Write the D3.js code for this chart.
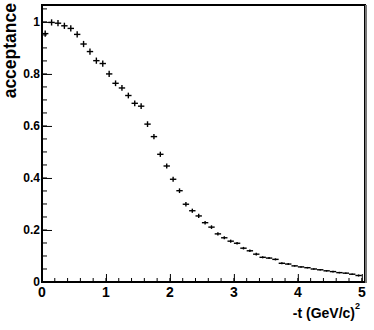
<!DOCTYPE html>
<html lang="en">
    <head>
        <style>
            body { margin: 0; background: #fff; }
            text { font-family: "Liberation Sans", Arial, sans-serif; font-weight: bold; fill: #000; }
        </style>
        <script src="https://d3js.org/d3.v7.min.js"></script>
        <title>acceptance</title>
    </head>
    <body>
        <div id="chart"></div>
        <script>

            // bin centres in -t (GeV/c)^2, bin width 0.1
            var tCentres = [0.05, 0.15, 0.25, 0.35, 0.45, 0.55, 0.65, 0.75, 0.85, 0.95,
                            1.05, 1.15, 1.25, 1.35, 1.45, 1.55, 1.65, 1.75, 1.85, 1.95,
                            2.05, 2.15, 2.25, 2.35, 2.45, 2.55, 2.65, 2.75, 2.85, 2.95,
                            3.05, 3.15, 3.25, 3.35, 3.45, 3.55, 3.65, 3.75, 3.85, 3.95,
                            4.05, 4.15, 4.25, 4.35, 4.45, 4.55, 4.65, 4.75, 4.85, 4.95]
            var acceptance = [0.955, 0.998, 0.995, 0.985, 0.975, 0.952, 0.915, 0.886, 0.851, 0.840,
                              0.800, 0.764, 0.746, 0.717, 0.687, 0.676, 0.607, 0.559, 0.491, 0.446,
                              0.395, 0.351, 0.299, 0.274, 0.254, 0.228, 0.211, 0.185, 0.170, 0.157,
                              0.149, 0.130, 0.120, 0.107, 0.095, 0.092, 0.087, 0.072, 0.069, 0.062,
                              0.058, 0.055, 0.050, 0.047, 0.043, 0.040, 0.036, 0.034, 0.030, 0.025]
            var errors = [0.012, 0.012, 0.012, 0.012, 0.012, 0.012, 0.012, 0.012, 0.012, 0.012,
                          0.012, 0.011, 0.011, 0.011, 0.011, 0.011, 0.011, 0.010, 0.010, 0.010,
                          0.010, 0.009, 0.009, 0.008, 0.008, 0.007, 0.007, 0.006, 0.006, 0.006,
                          0.005, 0.005, 0.005, 0.005, 0.004, 0.004, 0.004, 0.004, 0.004, 0.003,
                          0.003, 0.003, 0.003, 0.003, 0.003, 0.003, 0.003, 0.003, 0.003, 0.004]
            var binHalf = 0.05
            var xTicks = [0, 1, 2, 3, 4, 5]
            var yTicks = [0, 0.2, 0.4, 0.6, 0.8, 1]

            var width = 374, height = 330
            var frame = {left: 42, right: 365, top: 5, bottom: 282}

            var svg = d3.select("#chart")
                .append("svg")
                    .attr("width", width)
                    .attr("height", height)

            var x = d3.scaleLinear().domain([0, 5.05]).range([frame.left, frame.right])
            var y = d3.scaleLinear().domain([0, 1.065]).range([frame.bottom, frame.top])

            var data = tCentres.map(function(t, i) {
                return {t: t, a: acceptance[i], e: errors[i]}
            })

            // minor ticks
            var xMinor = d3.range(0, 5.05, 0.2)
            var yMinor = d3.range(0, 1.06, 0.05)

            svg.append("g").selectAll("line")
                .data(xMinor)
                .enter()
                .append("line")
                    .attr("x1", d => x(d)).attr("x2", d => x(d))
                    .attr("y1", frame.bottom).attr("y2", frame.bottom - 4)
                    .attr("stroke", "#000").attr("stroke-width", 1)

            svg.append("g").selectAll("line")
                .data(yMinor)
                .enter()
                .append("line")
                    .attr("x1", frame.left).attr("x2", frame.left + 5)
                    .attr("y1", d => y(d)).attr("y2", d => y(d))
                    .attr("stroke", "#000").attr("stroke-width", 1)

            // major ticks + labels
            var xAxis = d3.axisTop(x).tickValues(xTicks).tickSize(8).tickFormat("")
            svg.append("g")
                .attr("transform", "translate(0," + frame.bottom + ")")
                .call(xAxis)
                .call(g => g.select(".domain").remove())

            var yAxis = d3.axisRight(y).tickValues(yTicks).tickSize(10).tickFormat("")
            svg.append("g")
                .attr("transform", "translate(" + frame.left + ",0)")
                .call(yAxis)
                .call(g => g.select(".domain").remove())

            svg.append("g").selectAll("text")
                .data(xTicks)
                .enter()
                .append("text")
                    .attr("x", d => x(d))
                    .attr("y", 297)
                    .attr("text-anchor", "middle")
                    .style("font-size", "14px")
                    .text(d => d)

            svg.append("g").selectAll("text")
                .data(yTicks)
                .enter()
                .append("text")
                    .attr("x", frame.left - 2)
                    .attr("y", d => y(d) + 4)
                    .attr("text-anchor", "end")
                    .style("font-size", "12px")
                    .text(d => d)

            // frame
            svg.append("rect")
                .attr("x", frame.left).attr("y", frame.top)
                .attr("width", frame.right - frame.left).attr("height", frame.bottom - frame.top)
                .attr("fill", "none").attr("stroke", "#000").attr("stroke-width", 2)

            svg.append("line")
                .attr("x1", frame.right + 1).attr("x2", frame.right + 1)
                .attr("y1", frame.top).attr("y2", frame.bottom + 1)
                .attr("stroke", "#777").attr("stroke-width", 2)

            // data points with error bars
            var pts = svg.append("g").selectAll("g")
                .data(data)
                .enter()
                .append("g")

            pts.append("line")
                .attr("x1", d => x(d.t - binHalf)).attr("x2", d => x(d.t + binHalf))
                .attr("y1", d => y(d.a)).attr("y2", d => y(d.a))
                .attr("stroke", "#000").attr("stroke-width", 1.4)

            pts.append("line")
                .attr("x1", d => x(d.t)).attr("x2", d => x(d.t))
                .attr("y1", d => y(d.a - d.e)).attr("y2", d => y(d.a + d.e))
                .attr("stroke", "#000").attr("stroke-width", 1.4)

            // axis titles
            svg.append("text")
                .attr("transform", "translate(16,3) rotate(-90)")
                .attr("text-anchor", "end")
                .style("font-size", "17.5px")
                .text("acceptance")

            var xt = svg.append("text")
                .attr("x", 360)
                .attr("y", 318)
                .attr("text-anchor", "end")
                .style("font-size", "14px")
            xt.append("tspan").text("-t (GeV/c)")
            xt.append("tspan").attr("dy", -9).style("font-size", "9px").text("2")

        </script>

    </body>
</html>
